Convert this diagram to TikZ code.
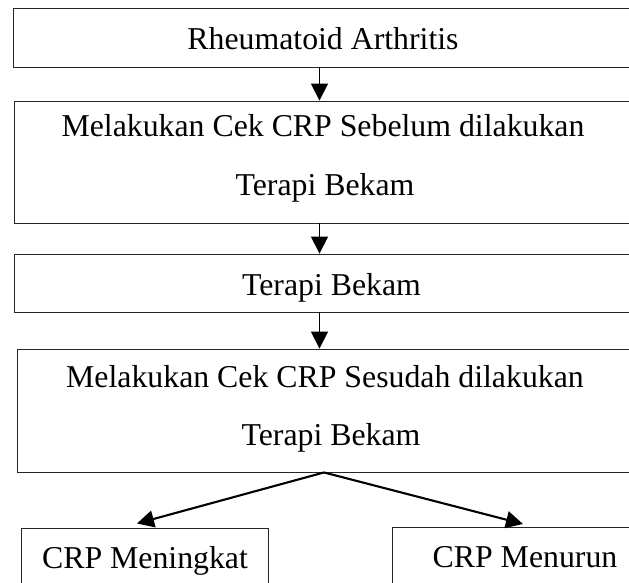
\documentclass[tikz,border=0pt]{standalone}
\usepackage{fontspec}
\setmainfont{Liberation Serif}
\usetikzlibrary{arrows.meta}
\tikzset{
  box/.style={draw=black!85, line width=0.9pt, rectangle, inner sep=0pt},
  lbl/.style={anchor=base, inner sep=0pt, font=\fontsize{31.8}{36}\selectfont},
  arr/.style={line width=1.7pt, -{Triangle[length=17pt,width=17pt]}}
}
\begin{document}
\begin{tikzpicture}[x=1pt,y=-1pt]
\useasboundingbox (0,0) rectangle (629,583);
% boxes
\node[box, minimum width=620pt, minimum height=59pt] (b1) at (323,37.5) {};
\node[box, minimum width=619pt, minimum height=122pt] (b2) at (323.5,162) {};
\node[box, minimum width=619pt, minimum height=58pt] (b3) at (323.5,283) {};
\node[box, minimum width=616pt, minimum height=123pt] (b4) at (325,410.5) {};
\node[box, minimum width=247pt, minimum height=72pt] (b5) at (144.5,564) {};
\node[box, minimum width=266pt, minimum height=73pt] (b6) at (525,563.5) {};
% texts
\node[lbl] (t1) at (323,50) {Rheumatoid Arthritis};
\node[lbl] (t2a) at (323,137) {Melakukan Cek CRP Sebelum dilakukan};
\node[lbl] (t2b) at (325,195) {Terapi Bekam};
\node[lbl] (t3) at (331.5,295) {Terapi Bekam};
\node[lbl] (t4a) at (325,387) {Melakukan Cek CRP Sesudah dilakukan};
\node[lbl] (t4b) at (331,445) {Terapi Bekam};
\node[lbl] (t5) at (145,568) {CRP Meningkat};
\node[lbl] (t6) at (525,567) {CRP Menurun};
% connectors
\coordinate (ax) at (319.5,0);
\coordinate (apex) at (324,0);
\coordinate (tipL) at (137,523.5);
\coordinate (tipR) at (523,524);
\draw[arr] (b1.south -| ax) -- (b2.north -| ax);
\draw[arr] (b2.south -| ax) -- (b3.north -| ax);
\draw[arr] (b3.south -| ax) -- (b4.north -| ax);
\draw[arr, line width=2.1pt] (b4.south -| apex) -- (tipL);
\draw[arr, line width=2.1pt] (b4.south -| apex) -- (tipR);
\end{tikzpicture}
\end{document}
